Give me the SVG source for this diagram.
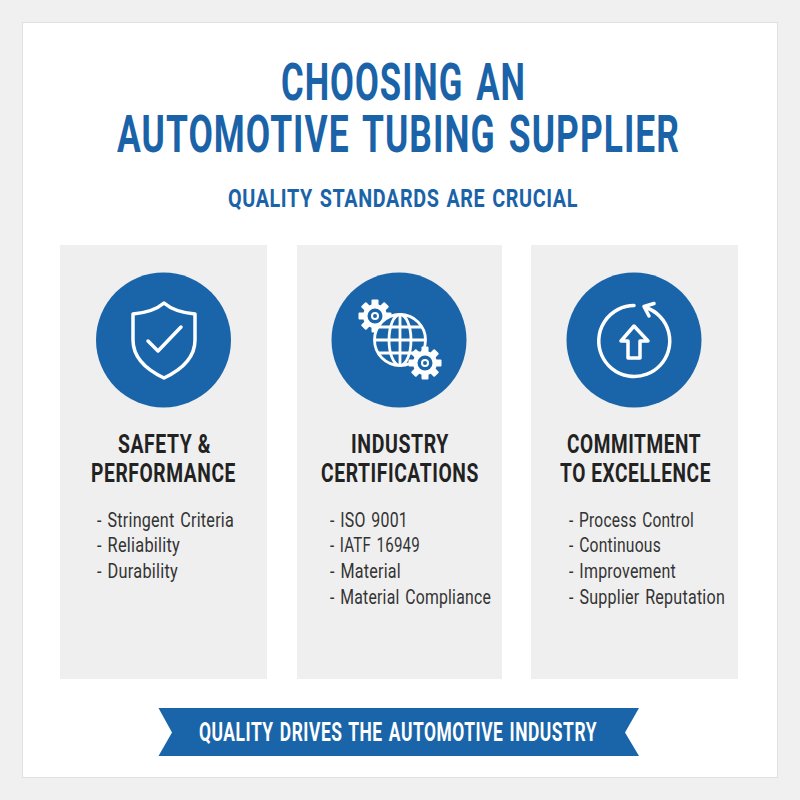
<svg xmlns="http://www.w3.org/2000/svg" width="800" height="800" viewBox="0 0 800 800">
<style>
text{font-family:Roboto,"Liberation Sans",sans-serif;text-anchor:start}
.t{font-size:51px;font-weight:700;fill:#1a63a8;letter-spacing:1.500px;word-spacing:5px}
.s{font-size:26.500px;font-weight:700;fill:#1a63a8;letter-spacing:.8px;word-spacing:2px}
.h{font-size:26px;font-weight:700;fill:#222;letter-spacing:.8px}
.b{font-size:21px;fill:#333;word-spacing:2px;letter-spacing:.3px}
.card{fill:#efefef}
.disc{fill:#1a65a9}
.i{fill:none;stroke:#fff;stroke-width:3.500;stroke-linecap:round;stroke-linejoin:round}
.gear{fill:#fff}
</style>
<defs>
<g id="gear">
<g class="gear"><circle r="12"/>
<rect x="-3.500" y="-16.500" width="7" height="33" rx="1"/>
<rect x="-3.500" y="-16.500" width="7" height="33" rx="1" transform="rotate(45)"/>
<rect x="-3.500" y="-16.500" width="7" height="33" rx="1" transform="rotate(90)"/>
<rect x="-3.500" y="-16.500" width="7" height="33" rx="1" transform="rotate(135)"/></g>
<circle r="7.500" fill="#1a65a9"/><circle r="4" fill="#fff"/><circle r="2" fill="#1a65a9"/>
</g>
</defs>
<rect width="800" height="800" fill="#f0f0f0"/>
<rect x="22.500" y="22.500" width="755" height="755" fill="#fff" stroke="#e0e0e0"/>
<g id="title">
<text class="t" transform="translate(281,100) scale(.75,1)" textLength="326.700" lengthAdjust="spacingAndGlyphs">CHOOSING AN</text>
<text class="t" transform="translate(117,152) scale(.75,1)" textLength="750.700" lengthAdjust="spacingAndGlyphs">AUTOMOTIVE TUBING SUPPLIER</text>
<text class="s" x="228" y="207" textLength="350" lengthAdjust="spacingAndGlyphs">QUALITY STANDARDS ARE CRUCIAL</text>
</g>
<g id="card-safety">
<rect class="card" x="60" y="245" width="207" height="434"/>
<circle class="disc" cx="163.500" cy="340" r="67.500"/>
<path class="i" d="M164 303C172 310 184 313 195 314V340C195 356 183 369 164 378C145 369 133 356 133 340V314C144 313 156 310 164 303Z"/>
<path class="i" d="M148 341L158 351L181 327"/>
<text class="h" x="118" y="452.500" textLength="93" lengthAdjust="spacingAndGlyphs">SAFETY &amp;</text>
<text class="h" x="91" y="482" textLength="145" lengthAdjust="spacingAndGlyphs">PERFORMANCE</text>
<text class="b" x="97" y="526.500" textLength="137" lengthAdjust="spacingAndGlyphs">- Stringent Criteria</text>
<text class="b" x="97" y="552" textLength="83" lengthAdjust="spacingAndGlyphs">- Reliability</text>
<text class="b" x="97" y="578" textLength="81" lengthAdjust="spacingAndGlyphs">- Durability</text>
</g>
<g id="card-certifications">
<rect class="card" x="297" y="245" width="205" height="434"/>
<circle class="disc" cx="399" cy="340" r="67.500"/>
<use href="#gear" transform="translate(375,316)"/>
<circle cx="400" cy="340" r="25.500" fill="#1a65a9"/>
<g class="i" style="stroke-width:2.800">
<circle cx="400" cy="340" r="25.500"/>
<ellipse cx="400" cy="340" rx="11" ry="25.500"/>
<path d="M400 315V365M375 340H425M379 327H421M379 353H421"/>
</g>
<use href="#gear" transform="translate(425,363)"/>
<text class="h" x="351" y="452.500" textLength="98" lengthAdjust="spacingAndGlyphs">INDUSTRY</text>
<text class="h" x="321" y="482" textLength="158" lengthAdjust="spacingAndGlyphs">CERTIFICATIONS</text>
<text class="b" x="330" y="526.500" textLength="78" lengthAdjust="spacingAndGlyphs">- ISO 9001</text>
<text class="b" x="330" y="552" textLength="90" lengthAdjust="spacingAndGlyphs">- IATF 16949</text>
<text class="b" x="330" y="578" textLength="71" lengthAdjust="spacingAndGlyphs">- Material</text>
<text class="b" x="330" y="604" textLength="161" lengthAdjust="spacingAndGlyphs">- Material Compliance</text>
</g>
<g id="card-excellence">
<rect class="card" x="531" y="245" width="207" height="434"/>
<circle class="disc" cx="634" cy="340" r="67.500"/>
<path class="i" d="M634 305.500A35.500 35.500 0 1 0 646 307.500M654 303.500L644 306.500L649 316"/>
<path class="i" d="M634 326L648 341H640V358H628V341H621Z"/>
<text class="h" x="567" y="452.500" textLength="134" lengthAdjust="spacingAndGlyphs">COMMITMENT</text>
<text class="h" x="560" y="482" textLength="151" lengthAdjust="spacingAndGlyphs">TO EXCELLENCE</text>
<text class="b" x="569" y="526.500" textLength="125" lengthAdjust="spacingAndGlyphs">- Process Control</text>
<text class="b" x="569" y="552" textLength="92" lengthAdjust="spacingAndGlyphs">- Continuous</text>
<text class="b" x="569" y="578" textLength="107" lengthAdjust="spacingAndGlyphs">- Improvement</text>
<text class="b" x="569" y="604" textLength="156" lengthAdjust="spacingAndGlyphs">- Supplier Reputation</text>
</g>
<g id="banner">
<path d="M158.500 708H639L625 732.500L639 756H158.500L172 732.500Z" fill="#1a65a9"/>
<text x="199" y="740.500" font-size="26" font-weight="700" fill="#fff" letter-spacing=".8" word-spacing="2" textLength="398" lengthAdjust="spacingAndGlyphs">QUALITY DRIVES THE AUTOMOTIVE INDUSTRY</text>
</g>
</svg>
